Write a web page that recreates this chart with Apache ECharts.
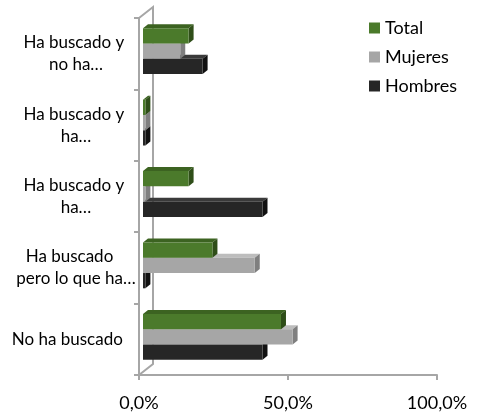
<!DOCTYPE html>
<html>
<head>
<meta charset="utf-8">
<script src="https://cdn.jsdelivr.net/npm/echarts@6/dist/echarts.min.js"></script>
<style>
  html, body { margin: 0; padding: 0; background: #fff; }
  #chart { width: 479px; height: 418px; }
</style>
</head>
<body>
<div id="chart"></div>
<script>
const categories = [
  'Ha buscado y \nno ha…',
  'Ha buscado y \nha…',
  'Ha buscado y \nha…',
  'Ha buscado   \npero lo que ha…',
  'No ha buscado    '
]
const seriesNames = ['Total', 'Mujeres', 'Hombres']
const total = [15.3, 0.8, 15.3, 23.3, 46.3]
const mujeres = [12.5, 0.8, 0.8, 37.5, 50.2]
const hombres = [20.0, 0.8, 40.1, 0.8, 40.1]
const xTicks = [0, 50, 100]

// front, top, side colours per series
const colors = [
  ['#4b7a2b', '#3c6321', '#2f4e19'],
  ['#a6a6a6', '#bdbdbd', '#7f7f7f'],
  ['#262626', '#3a3a3a', '#111111']
]

const FONT = 'Lato'
const DX = 5, DY = -4

function renderBar(params, api) {
  const idx = params.seriesIndex
  const base = api.coord([0, api.value(1)])
  const end = api.coord([api.value(0), api.value(1)])
  const band = api.size([0, 1])[1]
  const h = band * 0.214
  const y0 = base[1] + (idx - 1.5) * h - 2.5
  const x0 = base[0] + 4
  const x1 = Math.max(end[0] + 4, x0 + 0.5)
  const c = colors[idx]
  return {
    type: 'group',
    children: [
      {
        type: 'polygon',
        shape: {points: [[x0, y0], [x0 + DX, y0 + DY], [x1 + DX, y0 + DY], [x1, y0]]},
        style: {fill: c[1]}
      },
      {
        type: 'polygon',
        shape: {points: [[x1, y0], [x1 + DX, y0 + DY], [x1 + DX, y0 + h + DY], [x1, y0 + h]]},
        style: {fill: c[2]}
      },
      {
        type: 'rect',
        shape: {x: x0, y: y0, width: x1 - x0, height: h},
        style: {fill: c[0]}
      }
    ]
  }
}

const chart = echarts.init(document.getElementById('chart'), null, {renderer: 'canvas'})

const values = [total, mujeres, hombres]

const option = {
  animation: false,
  grid: {left: 139, right: 42, top: 18, bottom: 43, containLabel: false},
  legend: {
    orient: 'vertical',
    left: 369,
    top: 19,
    padding: 0,
    icon: 'rect',
    itemWidth: 11,
    itemHeight: 11,
    itemGap: 11,
    textStyle: {fontFamily: FONT, fontSize: 18, color: '#000'},
    data: seriesNames.map((n, i) => ({name: n, itemStyle: {color: colors[i][0]}}))
  },
  xAxis: {
    type: 'value',
    min: 0,
    max: 100,
    interval: 50,
    splitLine: {show: false},
    axisLine: {show: true, lineStyle: {color: '#a6a6a6', width: 2}},
    axisTick: {show: true, length: 5, lineStyle: {color: '#a6a6a6', width: 2}},
    axisLabel: {
      fontFamily: FONT, fontSize: 18, color: '#000', margin: 19,
      formatter: v => xTicks.includes(v) ? v.toFixed(1).replace('.', ',') + '%' : ''
    }
  },
  yAxis: {
    type: 'category',
    inverse: true,
    data: categories,
    axisLine: {show: true, lineStyle: {color: '#a6a6a6', width: 2}},
    axisTick: {show: true, length: 5, lineStyle: {color: '#a6a6a6', width: 2}},
    axisLabel: {
      fontFamily: FONT, fontSize: 17, color: '#000', lineHeight: 22,
      align: 'center', margin: 63
    }
  },
  series: seriesNames.map((name, i) => ({
    name: name,
    type: 'custom',
    renderItem: renderBar,
    z: 10 - i,
    itemStyle: {color: colors[i][0]},
    encode: {x: 0, y: 1},
    data: values[i].map((v, k) => [v, k])
  }))
}

chart.setOption(option)

// back wall line and the two diagonal edges of the 3D frame
const xZero = chart.convertToPixel({xAxisIndex: 0}, 0)
const yFirst = chart.convertToPixel({yAxisIndex: 0}, 0)
const yLast = chart.convertToPixel({yAxisIndex: 0}, categories.length - 1)
const halfBand = (yLast - yFirst) / (categories.length - 1) / 2
const wallTop = yFirst - halfBand, wallBottom = yLast + halfBand
const WX = 14, WY = -11
const wallStyle = {stroke: '#a6a6a6', lineWidth: 2, fill: null}
chart.setOption({
  graphic: [
    {
      type: 'polyline', z: 1, silent: true,
      shape: {points: [[xZero, wallTop], [xZero + WX, wallTop + WY], [xZero + WX, wallBottom + WY], [xZero, wallBottom]]},
      style: wallStyle
    }
  ]
})
</script>
</body>
</html>
